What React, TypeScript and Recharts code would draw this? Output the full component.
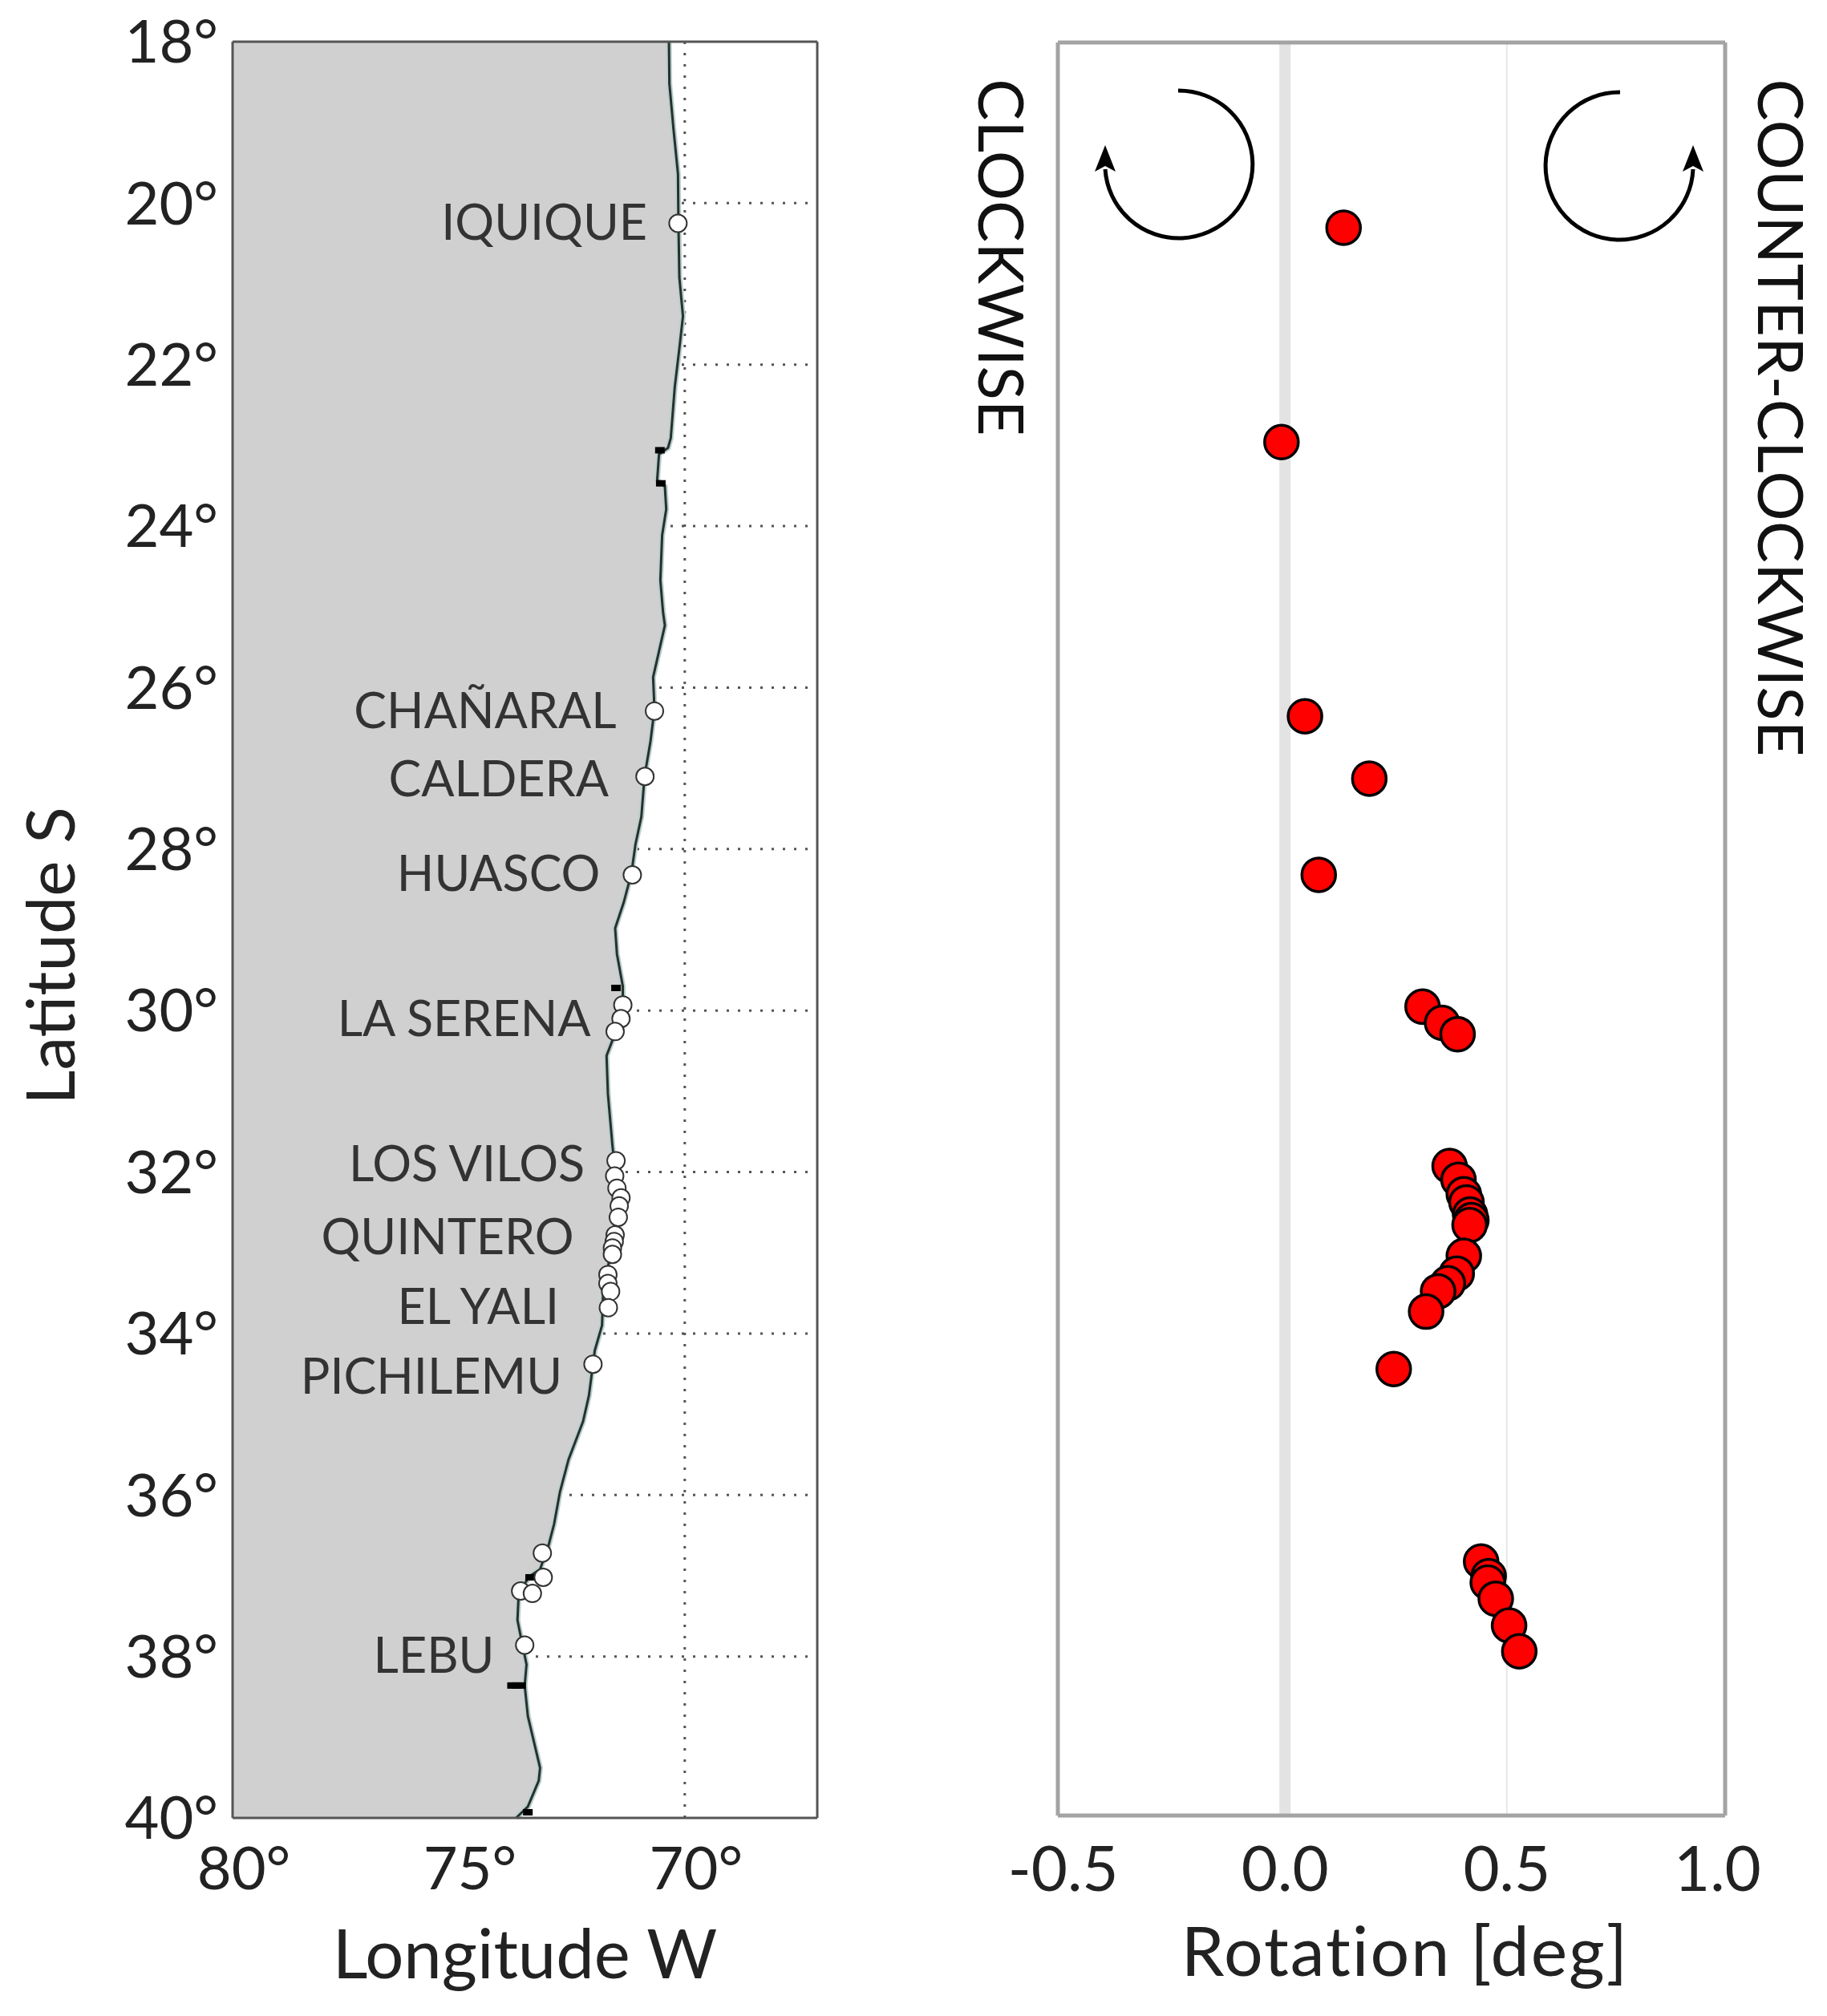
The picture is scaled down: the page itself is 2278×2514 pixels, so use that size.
import React from "react"
import {
  Area,
  CartesianGrid,
  ComposedChart,
  Line,
  ReferenceLine,
  Scatter,
  XAxis,
  YAxis,
} from "recharts"

const latTicks = [18, 20, 22, 24, 26, 28, 30, 32, 34, 36, 38, 40]
const latGrid = [20, 22, 24, 26, 28, 30, 32, 34, 36, 38]
const lonTicks = [80, 75, 70]
const rotationTicks = [-0.5, 0, 0.5, 1]

// coastline
const coastLon = [
  70.35, 70.34, 70.25, 70.15, 70.14, 70.12, 70.04, 70.12, 70.22, 70.31, 70.37, 70.57, 70.61, 70.44,
  70.41, 70.5, 70.54, 70.48, 70.44, 70.57, 70.7, 70.67, 70.76, 70.89, 70.96, 71.09, 71.18, 71.35,
  71.54, 71.5, 71.37, 71.37, 71.54, 71.73, 71.7, 71.6, 71.54, 71.47, 71.5, 71.67, 71.8, 71.83,
  71.99, 72.12, 72.25, 72.57, 72.76, 72.89, 73.02, 73.2, 73.41, 73.67, 73.7, 73.6, 73.5, 73.54,
  73.47, 73.2, 73.23, 73.47, 73.73,
]
const coastLat = [
  18, 18.52, 19.08, 19.64, 20.24, 20.92, 21.4, 21.8, 22.27, 22.91, 23.03, 23.11, 23.43, 23.51,
  23.79, 24.11, 24.67, 25.07, 25.23, 25.55, 25.87, 26.27, 26.67, 27.1, 27.6, 27.94, 28.3, 28.66,
  28.98, 29.3, 29.7, 29.95, 30.28, 30.56, 31.03, 31.67, 31.99, 32.3, 32.7, 33.1, 33.42, 33.9,
  34.21, 34.77, 35.09, 35.56, 35.96, 36.36, 36.64, 36.92, 37.0, 37.19, 37.55, 37.83, 38.1, 38.36,
  38.74, 39.38, 39.54, 39.86, 40,
]
const coastline = coastLon.map((lon, i) => ({ lon, lat: coastLat[i] }))

// stations, north to south
const stationLat = [
  20.25, 26.29, 27.1, 28.32, 29.93, 30.1, 30.26, 31.86, 32.05, 32.2, 32.32, 32.42, 32.56, 32.78,
  32.86, 32.94, 33.02, 33.27, 33.38, 33.48, 33.68, 34.38, 36.72, 37.02, 37.19, 37.22, 37.86,
]
const stationLon = [
  70.15, 70.67, 70.88, 71.16, 71.37, 71.41, 71.54, 71.52, 71.55, 71.5, 71.41, 71.45, 71.47, 71.54,
  71.56, 71.6, 71.6, 71.7, 71.7, 71.64, 71.69, 72.03, 73.15, 73.13, 73.63, 73.37, 73.54,
]
const stations = stationLon.map((lon, i) => ({ lon, lat: stationLat[i] }))

const townNames = ["IQUIQUE", "CHAÑARAL", "CALDERA", "HUASCO", "LA SERENA", "LOS VILOS", "QUINTERO", "EL YALI", "PICHILEMU", "LEBU"]
const townLon = [70.83, 71.51, 71.68, 71.87, 72.08, 72.21, 72.45, 72.78, 72.71, 74.21]
const townLat = [20.25, 26.3, 27.15, 28.32, 30.12, 31.92, 32.82, 33.68, 34.55, 38.0]
const towns = townNames.map((name, i) => ({ name, lon: townLon[i], lat: townLat[i] }))

const blobLon = [73.82, 73.72, 73.62, 70.55, 70.53, 73.42, 71.52, 73.47]
const blobLat = [38.36, 38.36, 38.36, 23.06, 23.47, 37.02, 29.72, 39.93]
const blobs = blobLon.map((lon, i) => ({ lon, lat: blobLat[i] }))

const rotationValues = [
  0.132, -0.008, 0.045, 0.19, 0.076, 0.31, 0.354, 0.389, 0.371, 0.391, 0.403, 0.409, 0.417, 0.42,
  0.416, 0.403, 0.387, 0.367, 0.345, 0.318, 0.245, 0.442, 0.459, 0.457, 0.475, 0.505, 0.528,
]
const rotationLat = [
  20.25, 22.9, 26.29, 27.06, 28.25, 29.88, 30.08, 30.22, 31.85, 32.02, 32.2, 32.3, 32.45, 32.52,
  32.58, 32.96, 33.18, 33.3, 33.4, 33.65, 34.36, 36.74, 36.92, 37.0, 37.2, 37.53, 37.85,
]
const rotations = rotationValues.map((rot, i) => ({ rot, lat: rotationLat[i] }))

const font = "Lato, 'Open Sans', sans-serif"
const textColor = "#222"

function StationDot(props: any) {
  return <circle cx={props.cx} cy={props.cy} r={11} fill="#fff" stroke="#333" strokeWidth={2} />
}

function TownLabel(props: any) {
  return (
    <text x={props.cx} y={props.cy} dy={20} textAnchor="end" fontFamily={font} fontSize={61} fill="#333">
      {props.name}
    </text>
  )
}

function Blob(props: any) {
  return <rect x={props.cx - 6} y={props.cy - 4} width={12} height={8} fill="#000" />
}

function RotationDot(props: any) {
  return <circle cx={props.cx} cy={props.cy} r={21} fill="#fe0000" stroke="#000" strokeWidth={3.5} />
}

// the 1.0 label sits a bit left of the frame edge in the original
function RotationTick(props: any) {
  const value = props.payload.value
  return (
    <text x={value === 1 ? props.x - 14 : props.x} y={props.y} dy={58} textAnchor="middle" fontFamily={font} fontSize={78} fill={textColor}>
      {value.toFixed(1)}
    </text>
  )
}

function MapPanel() {
  return (
    <ComposedChart
      width={1140}
      height={2514}
      data={coastline}
      layout="vertical"
      margin={{ left: 150, top: 52, right: 121, bottom: 47 }}
    >
      <CartesianGrid
        horizontalValues={latGrid}
        verticalValues={[70]}
        stroke="#555"
        strokeWidth={3}
        strokeDasharray="3 11"
      />
      <Area
        dataKey="lon"
        baseValue={80}
        type="linear"
        fill="#d0d0d0"
        fillOpacity={1}
        stroke="#b9cfcb"
        strokeWidth={7}
        dot={false}
        activeDot={false}
        isAnimationActive={false}
      />
      <Line dataKey="lon" type="linear" stroke="#26302f" strokeWidth={3} dot={false} activeDot={false} isAnimationActive={false} />
      <XAxis
        type="number"
        dataKey="lon"
        domain={[67.07, 80]}
        reversed
        ticks={lonTicks}
        interval={0}
        height={200}
        tickSize={0}
        tickMargin={36}
        tickLine={false}
        axisLine={{ stroke: "#555", strokeWidth: 3 }}
        tick={{ fontFamily: font, fontSize: 74, fill: textColor, dx: 14 }}
        tickFormatter={(v) => `${v}°`}
        label={{ value: "Longitude W", position: "insideBottom", offset: 0, fontFamily: font, fontSize: 85, fill: textColor }}
      />
      <XAxis xAxisId="top" type="number" orientation="top" mirror domain={[67.07, 80]} reversed ticks={[70]} tick={false} tickSize={22} axisLine={{ stroke: "#555", strokeWidth: 3 }} tickLine={{ stroke: "#555", strokeWidth: 3 }} />
      <XAxis xAxisId="inner" type="number" mirror domain={[67.07, 80]} reversed ticks={[70]} tick={false} tickSize={22} axisLine={false} tickLine={{ stroke: "#555", strokeWidth: 3 }} />
      <YAxis
        type="number"
        dataKey="lat"
        domain={[18, 40]}
        ticks={latTicks}
        interval={0}
        width={140}
        tickSize={0}
        tickMargin={18}
        tickLine={false}
        axisLine={{ stroke: "#555", strokeWidth: 3 }}
        tick={{ fontFamily: font, fontSize: 74, fill: textColor }}
        tickFormatter={(v) => `${v}°`}
      />
      <YAxis yAxisId="right" type="number" orientation="right" mirror domain={[18, 40]} ticks={latGrid} tick={false} tickSize={22} axisLine={{ stroke: "#555", strokeWidth: 3 }} tickLine={{ stroke: "#555", strokeWidth: 3 }} />
      <Scatter data={blobs} shape={Blob} isAnimationActive={false} />
      <Scatter data={stations} shape={StationDot} isAnimationActive={false} />
      <Scatter data={towns} shape={TownLabel} isAnimationActive={false} />
    </ComposedChart>
  )
}

function RotationPanel() {
  return (
    <ComposedChart
      width={1138}
      height={2514}
      margin={{ left: 178, top: 53, right: 127, bottom: 50 }}
    >
      <CartesianGrid horizontalValues={latGrid} verticalValues={[0.5]} stroke="#e8e8e8" strokeWidth={2} />
      <ReferenceLine x={0} stroke="#e3e3e3" strokeWidth={14} />
      <XAxis
        type="number"
        dataKey="rot"
        domain={[-0.512, 0.992]}
        ticks={rotationTicks}
        interval={0}
        height={200}
        tickSize={0}
        tickMargin={36}
        tickLine={false}
        axisLine={{ stroke: "#a3a3a3", strokeWidth: 5 }}
        tick={RotationTick}
        label={{ value: "Rotation [deg]", position: "insideBottom", offset: 0, dx: 17, fontFamily: font, fontSize: 86, letterSpacing: 2, fill: textColor }}
      />
      <XAxis xAxisId="top" type="number" orientation="top" mirror domain={[-0.512, 0.992]} tick={false} tickLine={false} axisLine={{ stroke: "#a3a3a3", strokeWidth: 5 }} />
      <YAxis
        type="number"
        dataKey="lat"
        domain={[17.96, 39.88]}
        reversed
        width={1}
        tick={false}
        tickLine={false}
        axisLine={{ stroke: "#a3a3a3", strokeWidth: 5 }}
      />
      <YAxis yAxisId="right" type="number" orientation="right" mirror domain={[17.96, 39.88]} reversed tick={false} tickLine={false} axisLine={{ stroke: "#a3a3a3", strokeWidth: 5 }} />
      <Scatter data={rotations} shape={RotationDot} isAnimationActive={false} />
    </ComposedChart>
  )
}

function Overlay() {
  return (
    <svg width={2278} height={2514} style={{ position: "absolute", left: 0, top: 0, pointerEvents: "none" }}>
      <text transform="translate(60 1192) rotate(-90)" textAnchor="middle" dominantBaseline="central" fontFamily={font} fontSize={84} fill={textColor}>
        Latitude S
      </text>
      <text transform="translate(1250 321) rotate(90)" textAnchor="middle" dominantBaseline="central" fontFamily={font} fontSize={78} fill="#111">
        CLOCKWISE
      </text>
      <text transform="translate(2222 521) rotate(90)" textAnchor="middle" dominantBaseline="central" fontFamily={font} fontSize={78} fill="#111">
        COUNTER-CLOCKWISE
      </text>
      <path d="M1469 113 A92 92 0 1 1 1378 211" fill="none" stroke="#000" strokeWidth={5} />
      <path d="M1378 181 L1391 214 L1378 207 L1365 214 Z" fill="#000" />
      <path d="M2020 115 A92 92 0 1 0 2111 211" fill="none" stroke="#000" strokeWidth={5} />
      <path d="M2111 181 L2124 214 L2111 207 L2098 214 Z" fill="#000" />
    </svg>
  )
}

export default function App() {
  return (
    <div style={{ position: "absolute", left: 0, top: 0, width: 2278, height: 2514, background: "#fff" }}>
      <div style={{ position: "absolute", left: 0, top: 0 }}>
        <MapPanel />
      </div>
      <div style={{ position: "absolute", left: 1140, top: 0 }}>
        <RotationPanel />
      </div>
      <Overlay />
    </div>
  )
}
